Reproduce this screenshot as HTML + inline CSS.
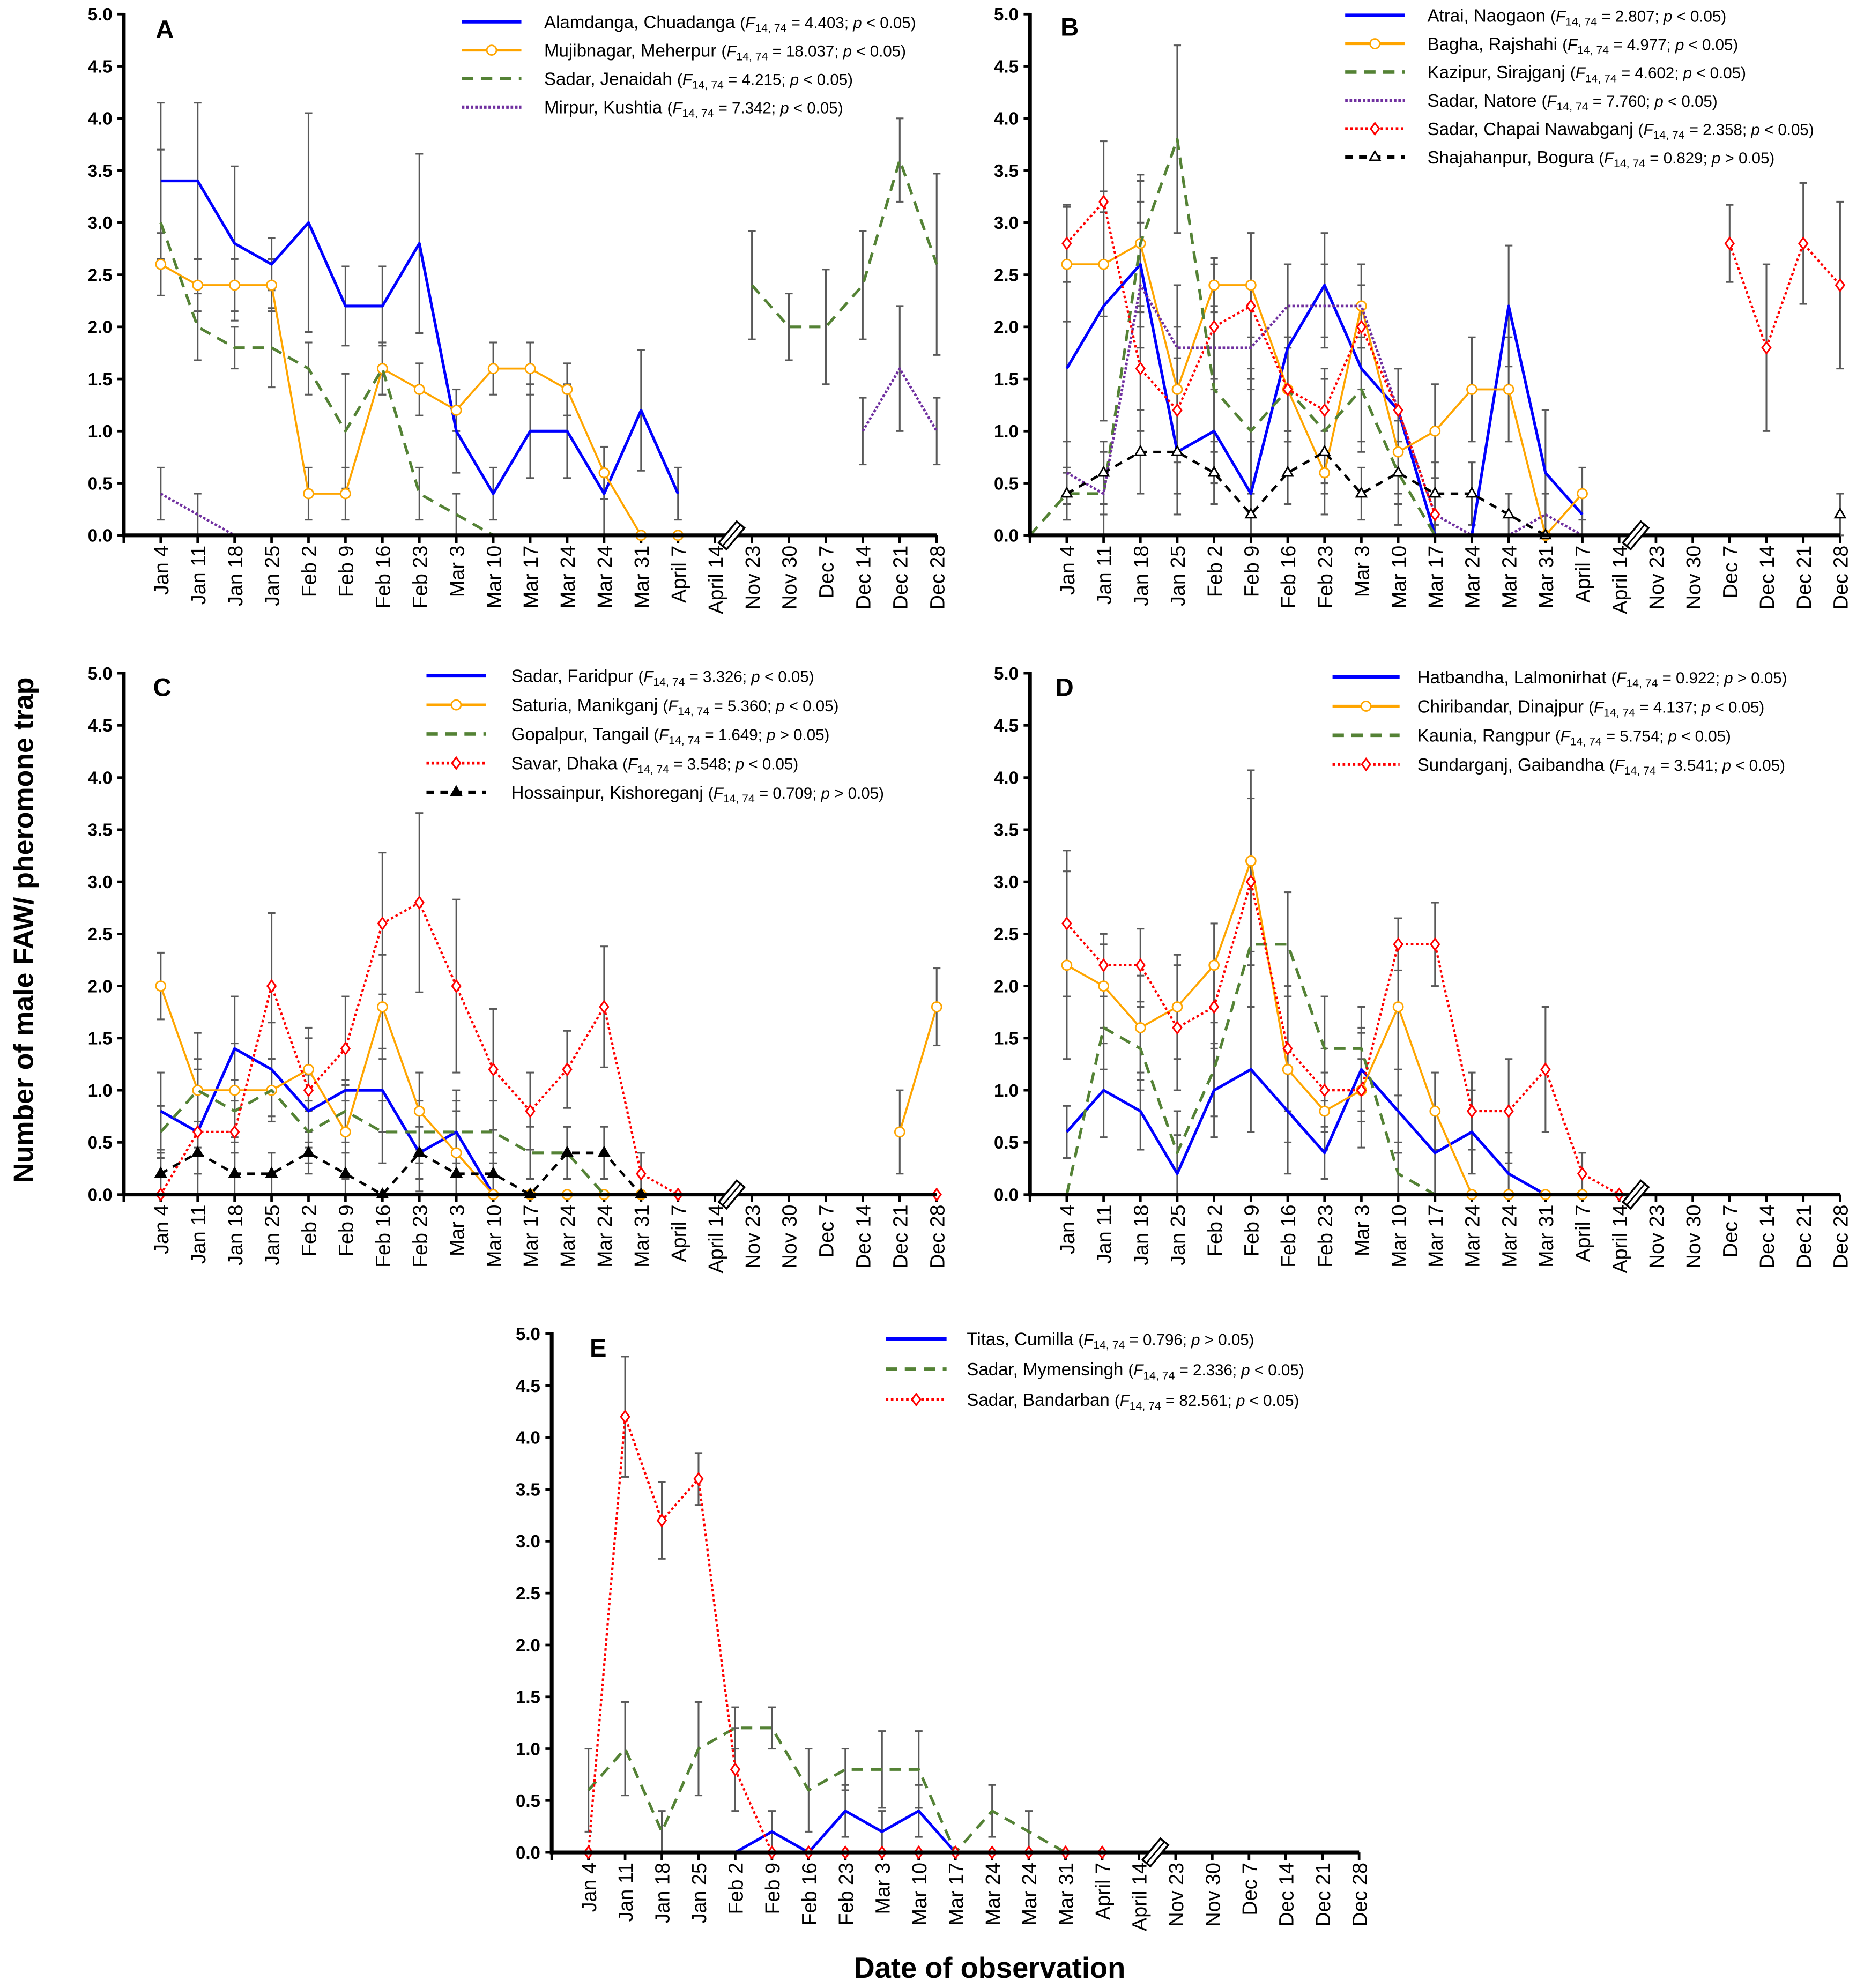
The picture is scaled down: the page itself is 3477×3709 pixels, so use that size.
<!DOCTYPE html>
<html><head><meta charset="utf-8"><style>
html,body{margin:0;padding:0;background:#fff}
svg{display:block}
text{font-family:"Liberation Sans",Arial,sans-serif}
</style></head><body>
<svg id="fig" xmlns="http://www.w3.org/2000/svg" width="3477" height="3709" viewBox="0 0 1473 1571">
<rect width="1473" height="1571" fill="#fff"/>
<text transform="translate(26,735) rotate(-90)" text-anchor="middle" font-size="22" font-weight="bold">Number of male FAW/ pheromone trap</text>
<text x="782" y="1563" text-anchor="middle" font-size="23" font-weight="bold">Date of observation</text>
</svg>
<script>
const categories=["Jan 4","Jan 11","Jan 18","Jan 25","Feb 2","Feb 9","Feb 16","Feb 23","Mar 3","Mar 10","Mar 17","Mar 24","Mar 24","Mar 31","April 7","April 14","Nov 23","Nov 30","Dec 7","Dec 14","Dec 21","Dec 28"];
const yTicks=[0,0.5,1,1.5,2,2.5,3,3.5,4,4.5,5];
const N=null;
// Panel A
const aBlue=[3.4,3.4,2.8,2.6,3.0,2.2,2.2,2.8,1.0,0.4,1.0,1.0,0.4,1.2,0.4,N,N,N,N,N,N,N];
const aBlueErr=[0.75,0.75,0.74,0.25,1.05,0.38,0.38,0.86,0.4,0.25,0.45,0.45,0.45,0.58,0.25];
const aOrange=[2.6,2.4,2.4,2.4,0.4,0.4,1.6,1.4,1.2,1.6,1.6,1.4,0.6,0,0,N,N,N,N,N,N,N];
const aOrangeErr=[0.3,0.25,0.25,0.25,0.25,0.25,0.25,0.25,0.2,0.25,0.25,0.25,0.25,0,0];
const aGreen=[3.0,2.0,1.8,1.8,1.6,1.0,1.6,0.4,0.2,0,N,N,N,N,N,N,2.4,2.0,2.0,2.4,3.6,2.6];
const aGreenErr=[0.7,0.32,0.2,0.38,0.25,0.55,0.25,0.25,0.2,0,0,0,0,0,0,0,0.52,0.32,0.55,0.52,0.4,0.87];
const aPurple=[0.4,0.2,0,0,0,0,0,0,0,0,0,0,0,N,N,N,N,N,N,1.0,1.6,1.0];
const aPurpleErr=[0.25,0.2,0,0,0,0,0,0,0,0,0,0,0,0,0,0,0,0,0,0.32,0.6,0.32];
// Panel B
const bBlue=[1.6,2.2,2.6,0.8,1.0,0.4,1.8,2.4,1.6,1.2,0,0,2.2,0.6,0.2,N,N,N,N,N,N,N];
const bBlueErr=[1.0,1.1,0.6,0.6,0.5,0.5,0.8,0.5,0.8,0.4,0,0,0.58,0.6,0.2];
const bOrange=[2.6,2.6,2.8,1.4,2.4,2.4,1.4,0.6,2.2,0.8,1.0,1.4,1.4,0,0.4,N,N,N,N,N,N,N];
const bOrangeErr=[0.55,0.5,0.66,0.6,0.26,0.5,0.5,0.4,0.4,0.4,0.45,0.5,0.5,0,0.25];
const bGreenStart=0;
const bGreen=[0.4,0.4,2.8,3.8,1.4,1.0,1.4,1.0,1.4,0.6,0,0,0,0,N,N,N,N,N,N,N,N];
const bGreenErr=[0.25,0.4,0.6,0.9,0.6,0.6,0.5,0.5,0.5,0.5,0,0,0,0];
const bPurple=[0.6,0.4,2.4,1.8,1.8,1.8,2.2,2.2,2.2,1.2,0.2,0,0,0.2,0,N,N,N,N,N,N,N];
const bPurpleErr=[0.3,0.2,0.6,0.6,0.4,0.4,0.4,0.4,0.4,0.4,0.2,0,0,0.2,0];
const bRed=[2.8,3.2,1.6,1.2,2.0,2.2,1.4,1.2,2.0,1.2,0.2,N,N,N,N,N,N,N,2.8,1.8,2.8,2.4];
const bRedErr=[0.37,0.58,0.6,0.5,0.6,0.7,0.4,0.4,0.6,0.4,0.2,0,0,0,0,0,0,0,0.37,0.8,0.58,0.8];
const bBlack=[0.4,0.6,0.8,0.8,0.6,0.2,0.6,0.8,0.4,0.6,0.4,0.4,0.2,0,N,N,N,N,N,N,N,0.2];
const bBlackErr=[0.25,0.3,0.4,0.4,0.3,0.2,0.3,0.4,0.25,0.3,0.3,0.3,0.2,0,0,0,0,0,0,0,0,0.2];
// Panel C
const cBlue=[0.8,0.6,1.4,1.2,0.8,1.0,1.0,0.4,0.6,0,0,0,0,0,0,N,N,N,N,N,N,N];
const cBlueErr=[0.37,0.6,0.5,0.45,0.35,0.4,0.4,0.37,0.4,0,0,0,0,0,0];
const cOrange=[2.0,1.0,1.0,1.0,1.2,0.6,1.8,0.8,0.4,0,0,0,0,0,N,N,N,N,N,N,0.6,1.8];
const cOrangeErr=[0.32,0.55,0.45,0.3,0.4,0.45,0.5,0.37,0.4,0,0,0,0,0,0,0,0,0,0,0,0.4,0.37];
const cGreen=[0.6,1.0,0.8,1.0,0.6,0.8,0.6,0.6,0.6,0.6,0.4,0.4,0,0,0,N,N,N,N,N,N,N];
const cGreenErr=[0.25,0.3,0.3,0.3,0.3,0.3,0.3,0.3,0.3,0.3,0.25,0.25,0,0,0];
const cRed=[0,0.6,0.6,2.0,1.0,1.4,2.6,2.8,2.0,1.2,0.8,1.2,1.8,0.2,0,N,N,N,N,N,N,0];
const cRedErr=[0,0.4,0.4,0.7,0.5,0.5,0.68,0.86,0.83,0.58,0.37,0.37,0.58,0.2,0];
const cBlack=[0.2,0.4,0.2,0.2,0.4,0.2,0,0.4,0.2,0.2,0,0.4,0.4,0,N,N,N,N,N,N,N,N];
const cBlackErr=[0.2,0.2,0.2,0.2,0.2,0.2,0,0.25,0.2,0.2,0,0.25,0.25,0];
// Panel D
const dBlue=[0.6,1.0,0.8,0.2,1.0,1.2,0.8,0.4,1.2,0.8,0.4,0.6,0.2,0,0,N,N,N,N,N,N,N];
const dBlueErr=[0.25,0.45,0.37,0.37,0.45,0.6,0.6,0.25,0.4,0.4,0.4,0.4,0.2,0,0];
const dOrange=[2.2,2.0,1.6,1.8,2.2,3.2,1.2,0.8,1.0,1.8,0.8,0,0,0,0,N,N,N,N,N,N,N];
const dOrangeErr=[0.9,0.4,0.5,0.5,0.4,0.87,0.7,0.37,0.55,0.85,0.37,0,0,0,0];
const dGreen=[0,1.6,1.4,0.4,1.2,2.4,2.4,1.4,1.4,0.2,0,0,0,0,0,N,N,N,N,N,N,N];
const dGreenErr=[0,0.4,0.4,0.4,0.45,0.6,0.5,0.5,0.4,0.3,0,0,0,0,0];
const dRed=[2.6,2.2,2.2,1.6,1.8,3.0,1.4,1.0,1.0,2.4,2.4,0.8,0.8,1.2,0.2,0,N,N,N,N,N,N];
const dRedErr=[0.7,0.3,0.35,0.6,0.4,0.8,0.6,0.4,0.3,0.25,0.4,0.37,0.5,0.6,0.2,0];
// Panel E
const eBlue=[0,0,0,0,0,0.2,0,0.4,0.2,0.4,0,N,N,N,N,N,N,N,N,N,N,N];
const eBlueErr=[0,0,0,0,0,0.2,0,0.25,0.2,0.25,0];
const eGreen=[0.6,1.0,0.2,1.0,1.2,1.2,0.6,0.8,0.8,0.8,0,0.4,0.2,0,N,N,N,N,N,N,N,N];
const eGreenErr=[0.4,0.45,0.2,0.45,0.2,0.2,0.4,0.2,0.37,0.37,0,0.25,0.2,0];
const eRed=[0,4.2,3.2,3.6,0.8,0,0,0,0,0,0,0,0,0,0,N,N,N,N,N,N,N];
const eRedErr=[0,0.58,0.37,0.25,0.4,0,0,0,0,0,0,0,0,0,0];

const SVGNS="http://www.w3.org/2000/svg";
const svg=document.getElementById('fig');
function mk(tag,attrs,parent){const e=document.createElementNS(SVGNS,tag);for(const k in attrs)e.setAttribute(k,attrs[k]);(parent||svg).appendChild(e);return e;}
const STY={
 blue:{stroke:'#0000FF',w:2.2,dash:'',mk:null},
 orange:{stroke:'#FFA500',w:1.6,dash:'',mk:'circle'},
 green:{stroke:'#548235',w:2.2,dash:'9,6',mk:null},
 purple:{stroke:'#7030A0',w:2,dash:'2,1.5',mk:null},
 red:{stroke:'#FF0000',w:1.8,dash:'2,2',mk:'diamond'},
 black:{stroke:'#000',w:2,dash:'6,5',mk:'tri'},
 blackF:{stroke:'#000',w:2,dash:'6,5',mk:'triF'}
};
function marker(g,t,x,y,col){
 if(t==='circle'){mk('circle',{cx:x,cy:y,r:3.8,fill:'#fff',stroke:col,'stroke-width':1.2},g);}
 else if(t==='diamond'){mk('polygon',{points:`${x},${y-4.5} ${x+3.3},${y} ${x},${y+4.5} ${x-3.3},${y}`,fill:'#fff',stroke:col,'stroke-width':1.3},g);}
 else if(t==='tri'){mk('polygon',{points:`${x},${y-4.5} ${x+4},${y+2.5} ${x-4},${y+2.5}`,fill:'#fff',stroke:col,'stroke-width':1.2},g);}
 else if(t==='triF'){mk('polygon',{points:`${x},${y-4.5} ${x+4},${y+2.5} ${x-4},${y+2.5}`,fill:col,stroke:col,'stroke-width':1.2},g);}
}
function legendLine(g,t,x1,x2,y){
 const s=STY[t];
 mk('line',{x1:x1,y1:y,x2:x2,y2:y,stroke:s.stroke,'stroke-width':s.w+0.6,'stroke-dasharray':s.dash},g);
 if(s.mk)marker(g,s.mk,(x1+x2)/2,y,s.stroke);
}
function panel(p){
 const g=mk('g',{});
 
 
 const X=i=>p.x0+p.step*i, Y=v=>p.y0-(p.y0-p.y5)*v/5;
 const axL=X(-1), axR=X(21);
 yTicks.forEach(v=>{
  mk('line',{x1:axL-5,y1:Y(v),x2:axL,y2:Y(v),stroke:'#000','stroke-width':2},g);
  const t=mk('text',{x:axL-9,y:Y(v)+5,'text-anchor':'end','font-size':14,'font-weight':'bold'},g);
  
  
  t.textContent=v.toFixed(1);
 });
 for(let i=-1;i<=21;i++) mk('line',{x1:X(i),y1:Y(0),x2:X(i),y2:Y(0)+6,stroke:'#000','stroke-width':2},g);
 categories.forEach((c,i)=>{
  const t=mk('text',{transform:`translate(${X(i)+6},${Y(0)+8}) rotate(-90)`,'text-anchor':'end','font-size':16},g);
  
  
  t.textContent=c;
 });
 p.series.forEach(s=>{
  s.data.forEach((v,i)=>{
   const e=s.err[i];
   if(v===null||!e)return;
   const xi=X(i+(s.start||0));
   const lo=Math.max(0,v-e),hi=v+e;
   const eb=mk('g',{stroke:'#595959','stroke-width':1.3},g);
   
   
   mk('line',{x1:xi,y1:Y(lo),x2:xi,y2:Y(hi)},eb);
   mk('line',{x1:xi-3,y1:Y(hi),x2:xi+3,y2:Y(hi)},eb);
   mk('line',{x1:xi-3,y1:Y(lo),x2:xi+3,y2:Y(lo)},eb);
  });
 });
 p.series.forEach(s=>{
  const st=STY[s.type];
  const sg=mk('g',{},g);
  
  
  let seg=[];const segs=[];
  if(s.pre!==undefined) seg.push([X(-1),Y(s.pre)]);
  s.data.forEach((v,i)=>{if(v===null){if(seg.length)segs.push(seg);seg=[];}else seg.push([X(i+(s.start||0)),Y(v)]);});
  if(seg.length)segs.push(seg);
  segs.forEach(sgm=>{ if(sgm.length>1) mk('polyline',{points:sgm.map(q=>q.join(',')).join(' '),fill:'none',stroke:st.stroke,'stroke-width':st.w,'stroke-dasharray':st.dash,'stroke-linejoin':'round'},sg);});
  if(st.mk) s.data.forEach((v,i)=>{if(v!==null)marker(sg,st.mk,X(i+(s.start||0)),Y(v),st.stroke);});
 });
 mk('line',{x1:axL,y1:Y(0),x2:axR,y2:Y(0),stroke:'#000','stroke-width':3},g);
 mk('line',{x1:axL,y1:Y(0)+1.5,x2:axL,y2:Y(5)-1,stroke:'#000','stroke-width':3},g);
 const bx=X(15.45),by=Y(0);
 const br=mk('g',{transform:`translate(${bx},${by}) rotate(-50)`},g);
 
 
 mk('rect',{x:-11,y:-4,width:22,height:8,fill:'#fff',stroke:'#000','stroke-width':1.5},br);
 mk('line',{x1:-11,y1:0,x2:11,y2:0,stroke:'#000','stroke-width':1.2},br);
 const L=mk('text',{x:p.lx,y:p.ly,'font-size':20,'font-weight':'bold'},g);
 
 
 L.textContent=p.letter;
 const lg=mk('g',{},g);
 
 
 p.series.forEach((s,k)=>{
  const y=p.legY+k*p.legDy;
  const le=mk('g',{},lg);
  
  
  legendLine(le,s.type,p.legX1,p.legX2,y);
  const t=mk('text',{x:p.legT,y:y+5,'font-size':14},le);
  t.innerHTML=`${s.name} <tspan font-size="12.5">(<tspan font-style="italic">F</tspan><tspan font-size="9" dy="3">14, 74</tspan><tspan dy="-3"> = ${s.f}; </tspan><tspan font-style="italic">p</tspan> ${s.p} 0.05)</tspan>`;
 });
}
panel({letter:'A',x0:127,step:29.2,y0:423,y5:11,lx:123,ly:30,legX1:365,legX2:412,legT:430,legY:17,legDy:22.5,series:[
 {name:'Alamdanga, Chuadanga',f:'4.403',p:'&lt;',type:'blue',data:aBlue,err:aBlueErr},
 {name:'Mujibnagar, Meherpur',f:'18.037',p:'&lt;',type:'orange',data:aOrange,err:aOrangeErr},
 {name:'Sadar, Jenaidah',f:'4.215',p:'&lt;',type:'green',data:aGreen,err:aGreenErr},
 {name:'Mirpur, Kushtia',f:'7.342',p:'&lt;',type:'purple',data:aPurple,err:aPurpleErr}]});
panel({letter:'B',x0:843,step:29.1,y0:423,y5:11,lx:838,ly:28,legX1:1063,legX2:1110,legT:1128,legY:12,legDy:22.4,series:[
 {name:'Atrai, Naogaon',f:'2.807',p:'&lt;',type:'blue',data:bBlue,err:bBlueErr},
 {name:'Bagha, Rajshahi',f:'4.977',p:'&lt;',type:'orange',data:bOrange,err:bOrangeErr},
 {name:'Kazipur, Sirajganj',f:'4.602',p:'&lt;',type:'green',data:bGreen,err:bGreenErr,pre:0,start:bGreenStart},
 {name:'Sadar, Natore',f:'7.760',p:'&lt;',type:'purple',data:bPurple,err:bPurpleErr},
 {name:'Sadar, Chapai Nawabganj',f:'2.358',p:'&lt;',type:'red',data:bRed,err:bRedErr},
 {name:'Shajahanpur, Bogura',f:'0.829',p:'&gt;',type:'black',data:bBlack,err:bBlackErr}]});
panel({letter:'C',x0:127,step:29.2,y0:944,y5:532,lx:121,ly:550,legX1:337,legX2:384,legT:404,legY:534,legDy:23,series:[
 {name:'Sadar, Faridpur',f:'3.326',p:'&lt;',type:'blue',data:cBlue,err:cBlueErr},
 {name:'Saturia, Manikganj',f:'5.360',p:'&lt;',type:'orange',data:cOrange,err:cOrangeErr},
 {name:'Gopalpur, Tangail',f:'1.649',p:'&gt;',type:'green',data:cGreen,err:cGreenErr},
 {name:'Savar, Dhaka',f:'3.548',p:'&lt;',type:'red',data:cRed,err:cRedErr},
 {name:'Hossainpur, Kishoreganj',f:'0.709',p:'&gt;',type:'blackF',data:cBlack,err:cBlackErr}]});
panel({letter:'D',x0:843,step:29.1,y0:944,y5:532,lx:834,ly:550,legX1:1053,legX2:1106,legT:1120,legY:535,legDy:23,series:[
 {name:'Hatbandha, Lalmonirhat',f:'0.922',p:'&gt;',type:'blue',data:dBlue,err:dBlueErr},
 {name:'Chiribandar, Dinajpur',f:'4.137',p:'&lt;',type:'orange',data:dOrange,err:dOrangeErr},
 {name:'Kaunia, Rangpur',f:'5.754',p:'&lt;',type:'green',data:dGreen,err:dGreenErr},
 {name:'Sundarganj, Gaibandha',f:'3.541',p:'&lt;',type:'red',data:dRed,err:dRedErr}]});
panel({letter:'E',x0:465,step:29,y0:1464,y5:1054,lx:466,ly:1072,legX1:700,legX2:748,legT:764,legY:1058,legDy:24,series:[
 {name:'Titas, Cumilla',f:'0.796',p:'&gt;',type:'blue',data:eBlue,err:eBlueErr},
 {name:'Sadar, Mymensingh',f:'2.336',p:'&lt;',type:'green',data:eGreen,err:eGreenErr},
 {name:'Sadar, Bandarban',f:'82.561',p:'&lt;',type:'red',data:eRed,err:eRedErr}]});
</script>
</body></html>
